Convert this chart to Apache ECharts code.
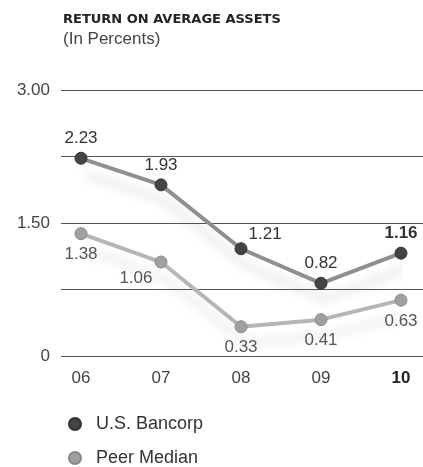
<!DOCTYPE html>
<html><head><meta charset="utf-8">
<script src="https://cdn.jsdelivr.net/npm/echarts@6/dist/echarts.min.js"></script>
<style>html,body{margin:0;padding:0;background:#fff}#c{width:423px;height:467px}</style>
</head><body><div id="c"></div>
<script>
var categories = ['06', '07', '08', '09', '10'];
var usBancorp = [2.23, 1.93, 1.21, 0.82, 1.16];
var peerMedian = [1.38, 1.06, 0.33, 0.41, 0.63];
var yTickLabels = { 0: '0', 1.5: '1.50', 3: '3.00' };
var usLabelPos = ['top', 'top', 'right', 'top', 'top'];
var peerLabelPos = ['bottom', 'left', 'bottom', 'bottom', 'bottom'];

var chart = echarts.init(document.getElementById('c'), null, { renderer: 'canvas' });
var font = 'Liberation Sans, Arial, sans-serif';
var gridTop = 90, gridBottom = 111;

function mkData(vals, pos, seriesIdx) {
  return vals.map(function (v, i) {
    var d = { value: v, label: { position: pos[i] } };
    if (i === vals.length - 1 && seriesIdx === 0) d.label.fontWeight = 'bold';
    if (pos[i] === 'left') { d.label.offset = [4, 16]; }
    if (pos[i] === 'right') { d.label.offset = [-4, -14]; }
    return d;
  });
}

chart.setOption({
  animation: false,
  title: {
    text: 'RETURN ON AVERAGE ASSETS',
    subtext: '(In Percents)',
    left: 58, top: 8, itemGap: 5,
    textStyle: { fontFamily: 'DejaVu Sans, sans-serif', fontSize: 13, fontWeight: 'bold', color: '#222' },
    subtextStyle: { fontFamily: font, fontSize: 17, color: '#444' }
  },
  legend: {
    orient: 'vertical', left: 68, top: 415, height: 60, padding: 0, itemGap: 16,
    icon: 'circle', itemWidth: 32, itemHeight: 12,
    textStyle: { fontFamily: font, fontSize: 18, lineHeight: 18, color: '#333' },
    data: ['U.S. Bancorp', 'Peer Median']
  },
  grid: [
    { left: 61, right: 0, top: gridTop, bottom: gridBottom },
    { left: 81, right: 22, top: gridTop, bottom: gridBottom }
  ],
  xAxis: [
    { gridIndex: 0, type: 'category', data: categories, show: false },
    {
      gridIndex: 1, type: 'category', data: categories, boundaryGap: false,
      axisLine: { show: false }, axisTick: { show: false },
      axisLabel: {
        margin: 14, fontFamily: font, fontSize: 17, color: '#444',
        formatter: function (v, i) { return i === categories.length - 1 ? '{b|' + v + '}' : v; },
        rich: { b: { fontWeight: 'bold', fontSize: 17, fontFamily: font, color: '#222' } }
      }
    }
  ],
  yAxis: [
    {
      gridIndex: 0, type: 'value', min: 0, max: 3, interval: 0.75,
      axisLine: { show: false }, axisTick: { show: false },
      axisLabel: {
        margin: 11, fontFamily: font, fontSize: 17, color: '#444',
        formatter: function (v) { return yTickLabels[v] !== undefined ? yTickLabels[v] : ''; }
      },
      splitLine: { lineStyle: { color: '#555', width: 1 } }
    },
    { gridIndex: 1, type: 'value', min: 0, max: 3, show: false }
  ],
  series: [
    {
      name: 'U.S. Bancorp', type: 'line', xAxisIndex: 1, yAxisIndex: 1,
      data: mkData(usBancorp, usLabelPos, 0),
      symbol: 'circle', symbolSize: 12,
      itemStyle: { color: '#444', borderColor: '#333', borderWidth: 1 },
      lineStyle: { color: '#8f8f8f', width: 4, shadowColor: 'rgba(0,0,0,0.16)', shadowBlur: 12, shadowOffsetY: 16, shadowOffsetX: 4 },
      label: { show: true, distance: 5, fontFamily: font, fontSize: 17, color: '#333' },
      z: 3
    },
    {
      name: 'Peer Median', type: 'line', xAxisIndex: 1, yAxisIndex: 1,
      data: mkData(peerMedian, peerLabelPos, 1),
      symbol: 'circle', symbolSize: 12,
      itemStyle: { color: '#a0a0a0', borderColor: '#888', borderWidth: 1 },
      lineStyle: { color: '#b5b5b5', width: 4, shadowColor: 'rgba(0,0,0,0.13)', shadowBlur: 12, shadowOffsetY: 16, shadowOffsetX: 4 },
      label: { show: true, distance: 6, fontFamily: font, fontSize: 17, color: '#555' },
      z: 2
    }
  ]
});
</script></body></html>
